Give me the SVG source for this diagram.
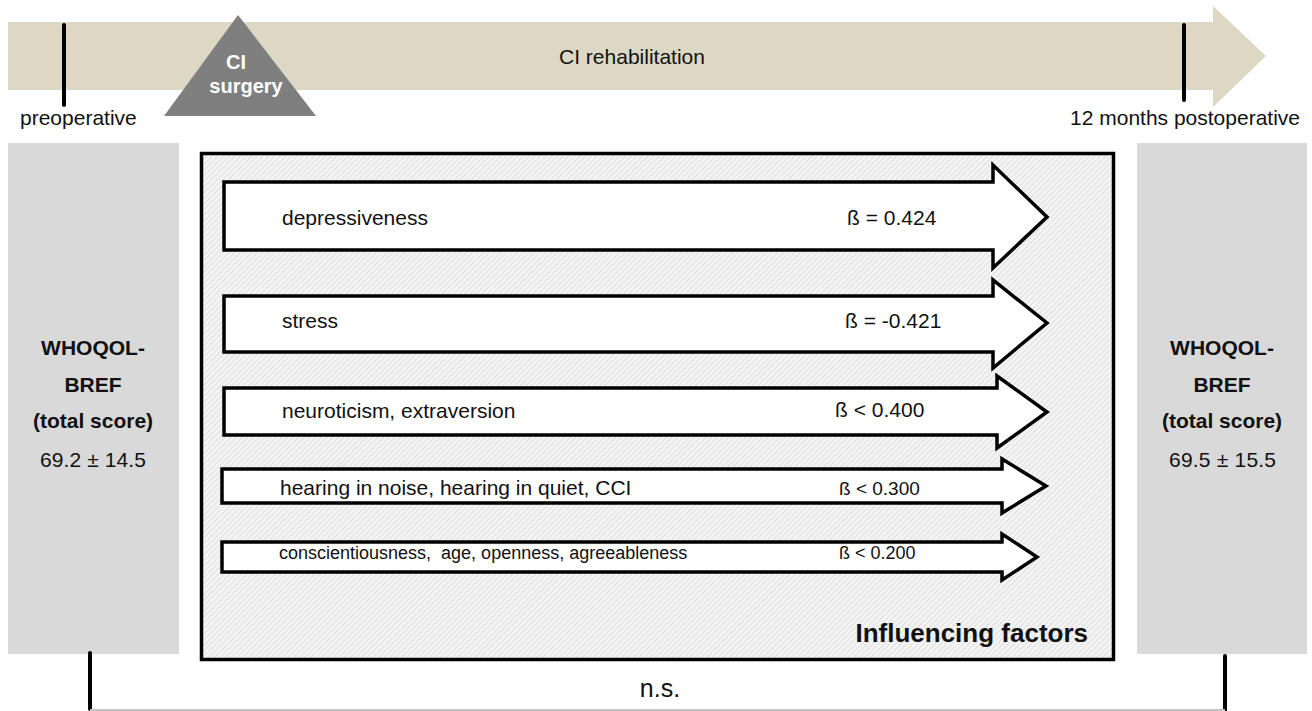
<svg xmlns="http://www.w3.org/2000/svg" width="1312" height="711" viewBox="0 0 1312 711">
<defs>
<pattern id="hatch" patternUnits="userSpaceOnUse" width="4" height="4" patternTransform="rotate(45)">
<rect width="4" height="4" fill="#F4F4F4"/>
<line x1="0" y1="0" x2="0" y2="4" stroke="#D2D2D2" stroke-width="1.2"/>
</pattern>
</defs>
<style>
text{font-family:"Liberation Sans",Arial,sans-serif;fill:#111}
.lbl{font-size:21px}
.t{font-size:21px}
.b{font-weight:bold;font-size:21px}
.arrow{fill:#fff;stroke:#000;stroke-width:3.5;stroke-linejoin:miter}
.tick{stroke:#000;stroke-width:4;stroke-linecap:round}
.gray{fill:#D9D9D9}
</style>
<rect width="1312" height="711" fill="#fff"/>
<g id="timeline">
<path d="M8,22 H1213 V6 L1266,56 L1213,107 V90 H8 Z" fill="#DCD8C3"/>
<text x="632" y="64" class="t" text-anchor="middle">CI rehabilitation</text>
<line class="tick" x1="64" y1="25" x2="64" y2="105"/>
<line class="tick" x1="1184" y1="25" x2="1184" y2="100"/>
<text x="20" y="125" class="t">preoperative</text>
<text x="1300" y="125" text-anchor="end" class="t">12 months postoperative</text>
</g>
<g id="surgery">
<polygon points="238,15 164,116 316,116" fill="#7F7F7F"/>
<text x="236" y="69" text-anchor="middle" style="font-size:20px;font-weight:bold;fill:#fff">CI</text>
<text x="246" y="93" text-anchor="middle" style="font-size:20px;font-weight:bold;fill:#fff">surgery</text>
</g>
<g id="pre">
<rect class="gray" x="8" y="143" width="171" height="511"/>
<text x="93" y="355" text-anchor="middle" class="b">WHOQOL-</text>
<text x="93" y="392" text-anchor="middle" class="b">BREF</text>
<text x="93" y="428" text-anchor="middle" class="b">(total score)</text>
<text x="40" y="467" style="font-size:21px" textLength="106" lengthAdjust="spacing">69.2 ± 14.5</text>
</g>
<g id="post">
<rect class="gray" x="1137" y="143" width="170" height="511"/>
<text x="1222" y="355" text-anchor="middle" class="b">WHOQOL-</text>
<text x="1222" y="392" text-anchor="middle" class="b">BREF</text>
<text x="1222" y="428" text-anchor="middle" class="b">(total score)</text>
<text x="1169" y="467" style="font-size:21px" textLength="107" lengthAdjust="spacing">69.5 ± 15.5</text>
</g>
<g id="factors">
<rect x="201.5" y="153.5" width="912" height="506" fill="url(#hatch)" stroke="#000" stroke-width="3.5"/>
<text x="1088" y="642" text-anchor="end" style="font-size:26px;font-weight:bold">Influencing factors</text>
</g>
<g id="connectors">
<path class="arrow" d="M224,182 H993 V165 L1047,217 L993,268 V250 H224 Z"/>
<path class="arrow" d="M224,296 H993 V280 L1047,323 L993,368 V352 H224 Z"/>
<path class="arrow" d="M224,388 H997 V376 L1047,412 L997,448 V435 H224 Z"/>
<path class="arrow" d="M222,469 H1002 V459 L1046,486 L1002,513 V503 H222 Z"/>
<path class="arrow" d="M222,542 H1002 V534 L1037,557 L1002,580 V572 H222 Z"/>
<line class="tick" x1="90" y1="653" x2="90" y2="709"/>
<line class="tick" x1="1225" y1="656" x2="1225" y2="711"/>
<line x1="90" y1="710" x2="1225" y2="710" stroke="#C4C4C4" stroke-width="2"/>
<text x="660" y="697" text-anchor="middle" style="font-size:25px">n.s.</text>
</g>
<g id="labels">
<text x="282" y="225" class="lbl">depressiveness</text>
<text x="847" y="225" class="lbl">ß = 0.424</text>
<text x="282" y="328" class="lbl">stress</text>
<text x="845" y="328" class="lbl">ß = -0.421</text>
<text x="282" y="418" class="lbl">neuroticism, extraversion</text>
<text x="835" y="417" class="lbl">ß &lt; 0.400</text>
<text x="280" y="495" style="font-size:21px">hearing in noise, hearing in quiet, CCI</text>
<text x="839" y="495" style="font-size:19px">ß &lt; 0.300</text>
<text x="279" y="559" style="font-size:18px" xml:space="preserve">conscientiousness,  age, openness, agreeableness</text>
<text x="839" y="559" style="font-size:18px">ß &lt; 0.200</text>
</g>
</svg>
